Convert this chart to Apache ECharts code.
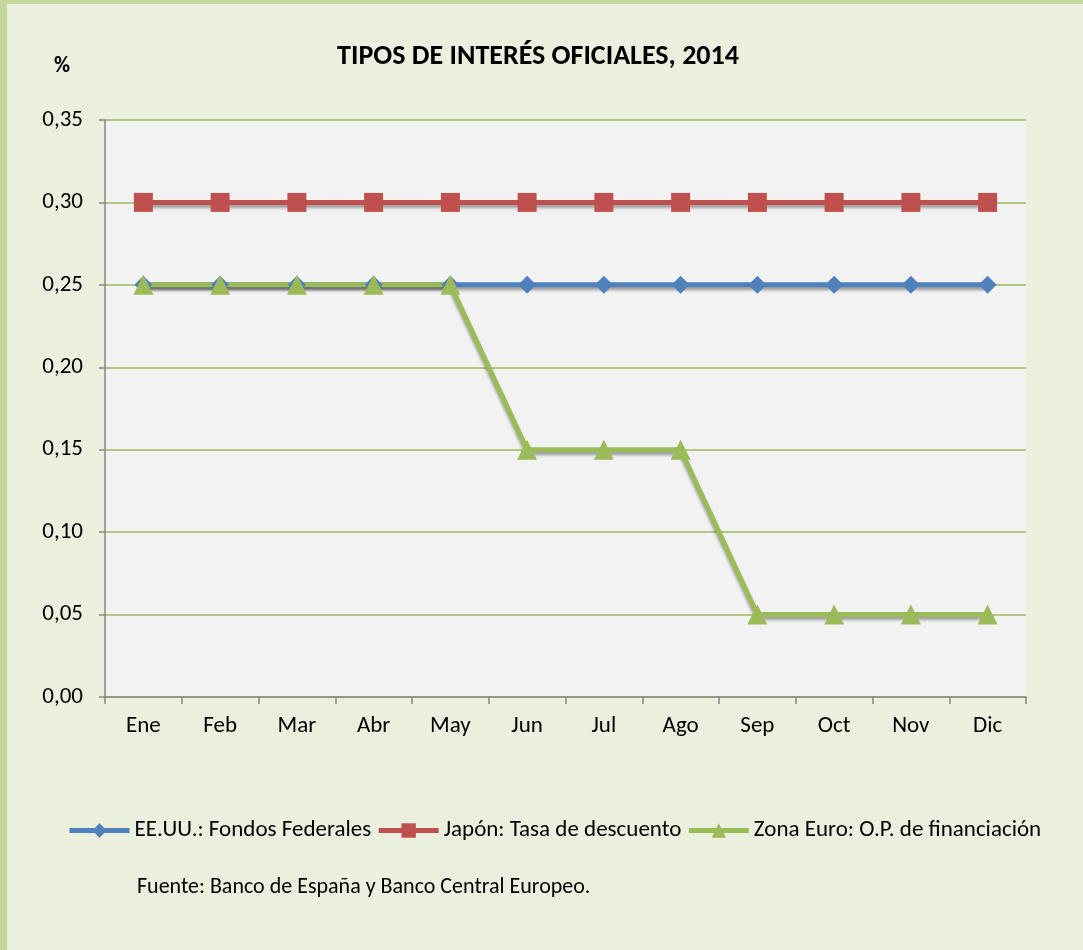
<!DOCTYPE html>
<html>
<head>
<meta charset="utf-8">
<script src="https://cdn.jsdelivr.net/npm/echarts@6/dist/echarts.min.js"></script>
<style>
  html, body { margin: 0; padding: 0; }
  #wrap { width: 1076px; height: 946px; background: #EBF0DE; border-left: 7px solid #C3D69B; border-top: 4px solid #C3D69B; }
  #chart { width: 1076px; height: 946px; }
</style>
</head>
<body>
<div id="wrap"><div id="chart"></div></div>
<script>
  // datos
  var meses = ['Ene', 'Feb', 'Mar', 'Abr', 'May', 'Jun', 'Jul', 'Ago', 'Sep', 'Oct', 'Nov', 'Dic'];
  var eeuu = [0.25, 0.25, 0.25, 0.25, 0.25, 0.25, 0.25, 0.25, 0.25, 0.25, 0.25, 0.25];
  var japon = [0.30, 0.30, 0.30, 0.30, 0.30, 0.30, 0.30, 0.30, 0.30, 0.30, 0.30, 0.30];
  var zonaEuro = [0.25, 0.25, 0.25, 0.25, 0.25, 0.15, 0.15, 0.15, 0.05, 0.05, 0.05, 0.05];
  var nombres = ['EE.UU.: Fondos Federales', 'Japón: Tasa de descuento', 'Zona Euro: O.P. de financiación'];

  var fuente = "Calibri, Carlito, 'Open Sans', sans-serif";
  var sombra = { shadowColor: 'rgba(0,0,0,0.35)', shadowBlur: 3, shadowOffsetY: 3 };

  function serie(nombre, datos, color, simbolo, tam) {
    return {
      name: nombre,
      type: 'line',
      data: datos,
      symbol: simbolo,
      symbolSize: tam,
      lineStyle: Object.assign({ color: color, width: 5 }, sombra),
      itemStyle: { color: color },
      emphasis: { disabled: true }
    };
  }

  var myChart = echarts.init(document.getElementById('chart'));
  var option = {
    animation: false,
    textStyle: { fontFamily: fuente },
    title: {
      text: 'TIPOS DE INTERÉS OFICIALES, 2014',
      left: 526, top: 34, textAlign: 'center',
      textStyle: { fontSize: 28, fontWeight: 'bold', color: '#000', fontFamily: fuente }
    },
    graphic: [
      { type: 'text', left: 47, top: 51, style: { text: '%', font: 'bold 22px ' + fuente, fill: '#000' } },
      { type: 'text', left: 130, top: 872, style: { text: 'Fuente: Banco de España y Banco Central Europeo.', font: '22px ' + fuente, fill: '#000' } }
    ],
    legend: {
      data: nombres,
      left: 55, top: 810,
      itemWidth: 60, itemHeight: 18, itemGap: 5,
      lineStyle: { width: 5 },
      textStyle: { fontSize: 23, color: '#000', fontFamily: fuente }
    },
    grid: { left: 98, right: 57, top: 116, bottom: 253, backgroundColor: '#F2F2F2', show: true, borderWidth: 0 },
    xAxis: {
      type: 'category',
      data: meses,
      boundaryGap: true,
      axisLine: { lineStyle: { color: '#868686', width: 1.5 } },
      axisTick: { show: true, length: 7, lineStyle: { color: '#868686', width: 1.5 } },
      axisLabel: { fontSize: 23, color: '#000', margin: 18 }
    },
    yAxis: {
      type: 'value',
      min: 0, max: 0.35, interval: 0.05,
      axisLine: { show: true, lineStyle: { color: '#868686', width: 1.5 } },
      axisTick: { show: true, length: 6, lineStyle: { color: '#868686', width: 1.5 } },
      axisLabel: {
        fontSize: 23, color: '#000', margin: 22,
        formatter: function (v) { return v.toFixed(2).replace('.', ','); }
      },
      splitLine: { lineStyle: { color: '#9BBB59', width: 1.5 } }
    },
    series: [
      serie(nombres[0], eeuu, '#4F81BD', 'diamond', 18),
      serie(nombres[1], japon, '#C0504D', 'rect', 19),
      serie(nombres[2], zonaEuro, '#9BBB59', 'triangle', 20)
    ]
  };
  myChart.setOption(option);
</script>
</body>
</html>
